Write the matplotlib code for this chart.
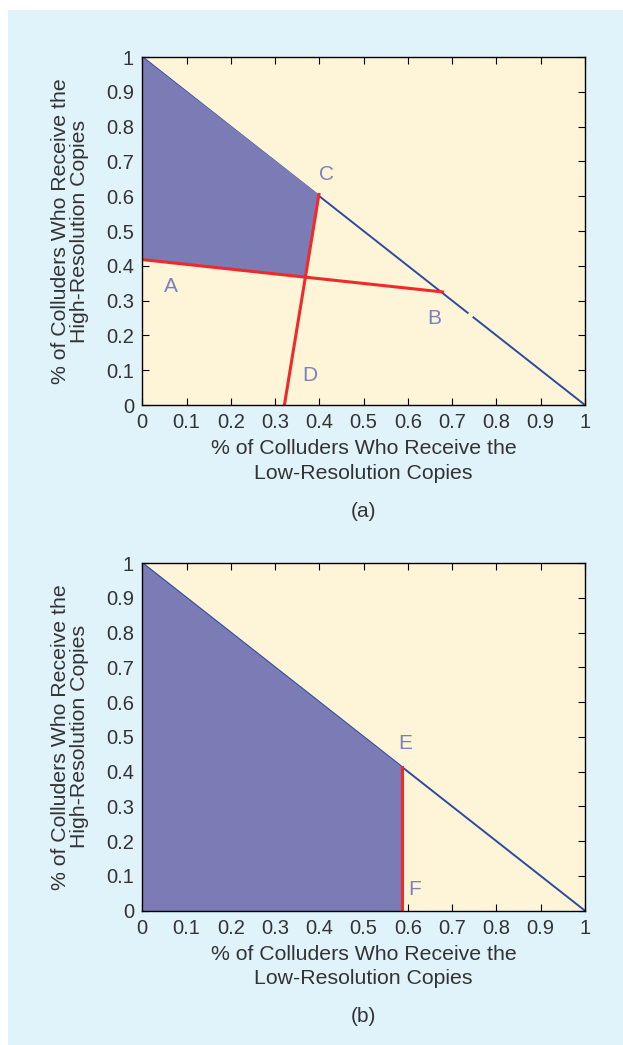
"""Regiões de conluio: frações de baixa / alta resolução"""

import numpy as np
import matplotlib.pyplot as plt

plt.rcParams['font.family'] = ['Liberation Sans', 'DejaVu Sans']

# Dados
diag_x_a = [0, 0.735, np.nan, 0.748, 1]     # diagonal em (a), com pequena falha
diag_y_a = [1, 0.265, np.nan, 0.252, 0]
diag_x_b = [0, 1]
diag_y_b = [1, 0]

linha_AB_x = [0, 0.678]
linha_AB_y = [0.418, 0.325]
linha_DC_x = [0.321, 0.399]
linha_DC_y = [0, 0.605]

regiao_a_x = [0, 0.399, 0.369, 0]
regiao_a_y = [1, 0.605, 0.367, 0.418]

regiao_b_x = [0, 0, 0.587, 0.587]
regiao_b_y = [1, 0, 0, 0.414]
linha_EF_x = [0.587, 0.587]
linha_EF_y = [0, 0.414]

rotulos_a = {'A': (0.065, 0.341), 'B': (0.659, 0.25), 'C': (0.417, 0.663), 'D': (0.379, 0.086)}
rotulos_b = {'E': (0.595, 0.48), 'F': (0.616, 0.06)}

ticks = np.round(np.arange(0, 1.01, 0.1), 1)
tick_labels = ['0'] + [f'{t:.1f}' for t in ticks[1:-1]] + ['1']

fundo = '#e0f2fa'
creme = '#fef4d8'
roxo = '#7b7bb5'
azul = '#2b4c9e'
vermelho = '#ee2a2a'
cor_letra = '#7b80c0'
cor_texto = '#333333'

fig = plt.figure(figsize=(6.23, 10.45), dpi=100)
fig.patch.set_facecolor('white')
fig.patches.append(plt.Rectangle((8 / 623, 0), 1, 1 - 10 / 1045, transform=fig.transFigure,
                                 facecolor=fundo, edgecolor='none', zorder=-10))

ax_a = fig.add_axes([0.2284, 0.6124, 0.7106, 0.3330])
ax_b = fig.add_axes([0.2284, 0.1285, 0.7106, 0.3327])


def configura(ax, legenda):
    ax.set_facecolor(creme)
    ax.set_xlim(0, 1)
    ax.set_ylim(0, 1)
    ax.set_xticks(ticks)
    ax.set_yticks(ticks)
    ax.set_xticklabels(tick_labels)
    ax.set_yticklabels(tick_labels)
    ax.tick_params(direction='in', length=5, width=0.8, top=True, right=True,
                   labelsize=14.5, labelcolor=cor_texto, pad=6)
    for s in ax.spines.values():
        s.set_linewidth(1.0)
        s.set_zorder(5)
    ax.set_xlabel('% of Colluders Who Receive the\nLow-Resolution Copies',
                  fontsize=15.3, color=cor_texto, labelpad=5, linespacing=1.35)
    ax.set_ylabel('% of Colluders Who Receive the\nHigh-Resolution Copies',
                  fontsize=15.3, color=cor_texto, labelpad=12, linespacing=1.05)
    ax.text(0.5, -0.305, legenda, transform=ax.transAxes, ha='center', va='center',
            fontsize=15, color=cor_texto)


# (a)
ax_a.plot(diag_x_a, diag_y_a, color=azul, lw=1.4, zorder=2)
ax_a.fill(regiao_a_x, regiao_a_y, color=roxo, lw=0, zorder=3)
ax_a.plot(linha_AB_x, linha_AB_y, color=vermelho, lw=2.2, zorder=4)
ax_a.plot(linha_DC_x, linha_DC_y, color=vermelho, lw=2.2, zorder=4)
for letra, (x, y) in rotulos_a.items():
    ax_a.text(x, y, letra, color=cor_letra, fontsize=15, ha='center', va='center', zorder=6)
configura(ax_a, '(a)')

# (b)
ax_b.plot(diag_x_b, diag_y_b, color=azul, lw=1.4, zorder=2)
ax_b.fill(regiao_b_x, regiao_b_y, color=roxo, lw=0, zorder=3)
ax_b.plot(linha_EF_x, linha_EF_y, color=vermelho, lw=2.2, zorder=4)
for letra, (x, y) in rotulos_b.items():
    ax_b.text(x, y, letra, color=cor_letra, fontsize=15, ha='center', va='center', zorder=6)
configura(ax_b, '(b)')

fig.savefig('out.png', dpi=100, facecolor=fig.get_facecolor())
